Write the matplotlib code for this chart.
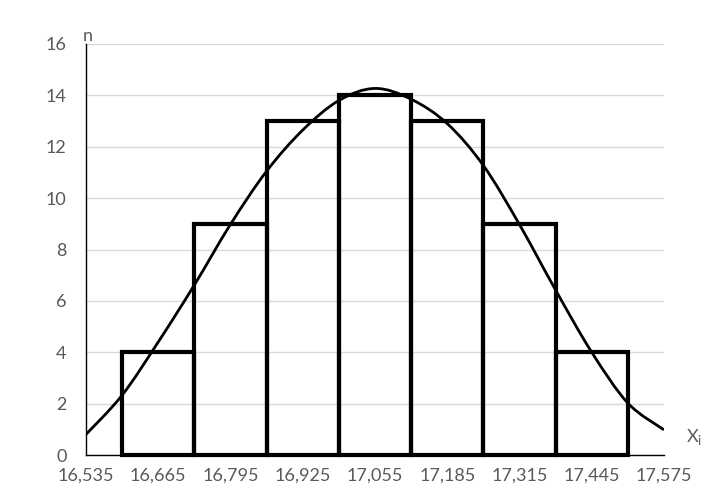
import matplotlib.pyplot as plt
from matplotlib.path import Path
from matplotlib.patches import PathPatch

# Интервалы и частоты
bin_edges = [16600, 16730, 16860, 16990, 17120, 17250, 17380]
bin_width = 130
counts = [4, 9, 13, 14, 13, 9, 4]

# Теоретическая кривая
curve_x = [16535, 16600, 16665, 16730, 16795, 16860, 16925, 16990, 17055,
           17120, 17185, 17250, 17315, 17380, 17445, 17510, 17575]
curve_y = [0.80, 2.33, 4.40, 6.62, 8.98, 11.05, 12.65, 13.80, 14.27,
           13.85, 12.90, 11.27, 8.97, 6.42, 4.00, 2.02, 0.98]

x_ticks = [16535, 16665, 16795, 16925, 17055, 17185, 17315, 17445, 17575]
x_labels = ['16,535', '16,665', '16,795', '16,925', '17,055', '17,185',
            '17,315', '17,445', '17,575']
y_ticks = [0, 2, 4, 6, 8, 10, 12, 14, 16]

plt.rcParams['font.family'] = ['Lato', 'DejaVu Sans']
grey = '#595959'

fig = plt.figure(figsize=(7.24, 4.97), dpi=100)
ax = fig.add_axes([86 / 724, 1 - 455 / 497, 578 / 724, 411 / 497])

ax.bar(bin_edges, counts, width=bin_width, align='edge', fill=False,
       edgecolor='black', linewidth=3, zorder=3, clip_on=False)

# сглаженная линия (как в Excel) через считанные точки
pts = list(zip(curve_x, curve_y))
verts = [pts[0]]
codes = [Path.MOVETO]
for i in range(len(pts) - 1):
    p0 = pts[max(i - 1, 0)]
    p1 = pts[i]
    p2 = pts[i + 1]
    p3 = pts[min(i + 2, len(pts) - 1)]
    c1 = (p1[0] + (p2[0] - p0[0]) / 6, p1[1] + (p2[1] - p0[1]) / 6)
    c2 = (p2[0] - (p3[0] - p1[0]) / 6, p2[1] - (p3[1] - p1[1]) / 6)
    verts += [c1, c2, p2]
    codes += [Path.CURVE4] * 3
ax.add_patch(PathPatch(Path(verts, codes), fill=False, edgecolor='black',
                       linewidth=2, zorder=4))

ax.set_xlim(16535, 17575)
ax.set_ylim(0, 16)
ax.set_xticks(x_ticks)
ax.set_xticklabels(x_labels)
ax.set_yticks(y_ticks)
ax.tick_params(length=0, colors=grey, labelsize=13)
ax.tick_params(axis='x', pad=9)
ax.tick_params(axis='y', pad=14)

ax.grid(axis='y', color='#d9d9d9', linewidth=1)
ax.set_axisbelow(True)
for s in ['top', 'right']:
    ax.spines[s].set_visible(False)
for s in ['left', 'bottom']:
    ax.spines[s].set_color('black')
    ax.spines[s].set_linewidth(1)

fig.text(83 / 724, 1 - 36 / 497, 'n', color=grey, fontsize=13, va='center')
fig.text(686 / 724, 1 - 437 / 497, r'X$_\mathregular{i}$', color=grey,
         fontsize=13, va='center')

plt.savefig('out.png')
